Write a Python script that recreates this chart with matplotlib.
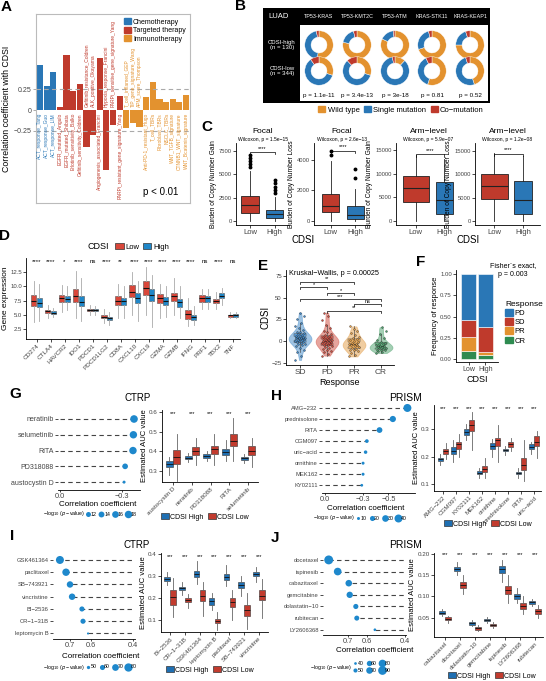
import numpy as np
import matplotlib
matplotlib.use('Agg')
import matplotlib.pyplot as plt
from matplotlib.patches import Patch
from matplotlib.lines import Line2D

plt.rcParams['font.family'] = ['Liberation Sans', 'DejaVu Sans']

W, H = 546, 681
BLUE = '#2a77b6'
RED = '#bf3a2c'
ORANGE = '#e3922f'
GREEN = '#2e8b50'

# ---- panel A
a_names = ['ACT_response_Tang', 'ACT_response_Guo', 'ACT_response_LIM',
	'EGFR_mutated_Angulo', 'EGFR_mutated_Shibata', 'Erlotinib_sensitivity_Balko', 'Gefitinib_sensitivity_Coldren',
	'Gefitinib_resistance_Coldren', 'ALK_positive_Okayama', 'Angiogenesis_associated_Francini',
	'Hypoxia_response_Francini', 'PARPi_sensitive_gene_signature_Yang', 'PARPi_resistant_gene_signature_Yang',
	'T_cell_inflamed_GEP', 'TIP_gene_signature_Wang', 'APM_score_Thompson', 'Anti-PD-1_resistant_Hugo',
	'T_cell_TBRs', 'Fibroblast_TBRs', 'NSCLC_TBRs', 'WNT_TGFB_signature', 'CTNNB1_WNT_signature',
	'WNT_Bcatenin_signature']
a_values = [0.55, 0.29, 0.46, 0.04, 0.66, 0.23, 0.32, -0.44, -0.30, 0.63, -0.72, -0.18, 0.17,
	-0.21, -0.16, -0.20, 0.16, 0.34, 0.14, 0.10, 0.14, 0.10, 0.18]
a_groups = [0] * 3 + [1] * 10 + [2] * 10
a_group_names = ['Chemotherapy', 'Targeted therapy', 'Immunotherapy']

# ---- panel B
b_pairs = ['TP53-KRAS', 'TP53-KMT2C', 'TP53-ATM', 'KRAS-STK11', 'KRAS-KEAP1']
b_parts = ['Wild type', 'Single mutation', 'Co\u2212mutation']
b_high = [[0.52, 0.45, 0.03], [0.78, 0.18, 0.04], [0.82, 0.16, 0.02], [0.70, 0.26, 0.04], [0.75, 0.20, 0.05]]
b_low = [[0.30, 0.60, 0.10], [0.30, 0.58, 0.12], [0.12, 0.85, 0.03], [0.55, 0.38, 0.07], [0.45, 0.50, 0.05]]
b_pvals = ['p = 1.1e-11', 'p = 3.4e-13', 'p = 3e-18', 'p = 0.81', 'p = 0.52']

# ---- panel C  (lo, q1, med, q3, hi)
c_titles = ['Focal', 'Focal', 'Arm\u2212level', 'Arm\u2212level']
c_tests = ['Wilcoxon, p = 1.5e\u221215', 'Wilcoxon, p = 2.6e\u221213', 'Wilcoxon, p = 5.9e\u221207', 'Wilcoxon, p = 1.2e\u221208']
c_ylabels = ['Burden of Copy Number Gain', 'Burden of Copy Number Loss', 'Burden of Copy Number Gain', 'Burden of Copy Number Loss']
c_low = [(0, 900, 1700, 2700, 5400), (0, 600, 1000, 1750, 3900), (0, 4000, 7000, 9500, 14000), (0, 4800, 7500, 10000, 14500)]
c_high = [(0, 300, 700, 1200, 2600), (0, 150, 400, 1000, 2100), (0, 1500, 4500, 8200, 13000), (0, 1600, 4500, 8500, 14000)]
c_low_out = [[5800, 6100, 6400, 6800, 7100], [4300, 4600], [], []]
c_high_out = [[3000, 3300, 3700, 4100, 4400], [2800, 3400], [], []]
c_bracket = [7400, 4600, 14100, 14400]
c_ticks = [[0, 2500, 5000, 7500], [0, 2000, 4000], [0, 5000, 10000, 15000], [0, 5000, 10000, 15000]]

# ---- panel D
d_genes = ['CD274', 'CTLA4', 'HAVCR2', 'IDO1', 'PDCD1', 'PDCD1LG2', 'CD8A', 'CXCL10', 'CXCL9',
	'GZMA', 'GZMB', 'IFNG', 'PRF1', 'TBX2', 'TNF']
d_sig = ['****', '****', '*', '****', 'ns', '****', '**', '****', '****', '****', '****', '****', 'ns', '****', 'ns']
d_low = [(3.8, 6.6, 7.5, 8.5, 11.0), (4.5, 5.3, 5.6, 5.9, 6.8), (5.5, 7.3, 7.9, 8.5, 10.2), (4.5, 7.2, 8.3, 9.5, 12.8),
	(5.0, 5.7, 5.9, 6.0, 6.8), (3.5, 4.4, 4.7, 5.0, 6.0), (4.5, 6.8, 7.5, 8.3, 10.5), (5.0, 8.1, 9.1, 10.2, 12.6),
	(5.0, 8.5, 9.8, 11.0, 13.5), (4.5, 7.0, 7.9, 8.6, 10.5), (5.0, 7.5, 8.3, 8.9, 11.5), (3.0, 4.3, 5.1, 5.8, 8.0),
	(6.0, 7.3, 7.9, 8.5, 9.5), (6.0, 7.0, 7.4, 7.8, 9.0), (4.4, 4.7, 4.9, 5.0, 5.5)]
d_high = [(4.0, 6.3, 7.0, 7.9, 10.5), (4.6, 5.1, 5.3, 5.6, 6.2), (5.8, 7.2, 7.8, 8.4, 10.0), (4.0, 6.6, 7.3, 8.3, 11.5),
	(5.0, 5.7, 5.9, 6.0, 6.6), (3.3, 4.1, 4.4, 4.7, 5.5), (4.5, 6.7, 7.4, 8.0, 10.0), (4.0, 7.0, 8.0, 8.9, 11.0),
	(2.8, 7.4, 8.5, 9.6, 12.0), (4.6, 6.8, 7.5, 8.2, 10.0), (4.5, 6.4, 7.2, 7.8, 10.0), (3.2, 4.1, 4.6, 5.0, 6.5),
	(6.0, 7.3, 7.9, 8.4, 9.5), (6.8, 8.0, 8.4, 8.8, 9.8), (4.4, 4.7, 4.9, 5.1, 5.5)]

# ---- panel E
e_groups = ['SD', 'PD', 'PR', 'CR']
e_sd = [-22, -17, -13, -10, -8, -6, -5, -4, -3, -2, -1, -1, 0, 0, 1, 1, 2, 2, 3, 3, 3, 4, 4, 5, 5, 6, 6, 7, 8, 9,
	10, 11, 13, 15, 18, 21, 25, 29, 33]
e_pd = [-17, -15, -13, -12, -10, -9, -8, -7, -6, -5, -5, -4, -3, -2, -2, -1, -1, 0, 0, 0, 1, 1, 2, 3, 3, 4, 5, 6,
	7, 8, 10, 12, 15, 19, 24, 29, 33]
e_pr = [-18, -16, -14, -12, -11, -10, -9, -8, -7, -6, -5, -5, -4, -4, -3, -2, -1, 0, 1, 2, 3, 5, 7, 9, 12, 14, 17]
e_cr = [-14, -13, -12, -11, -10, -10, -9, -8, -8, -7, -7, -6, -6, -5, -4, -3, -2, -1, 1, 4, 8, 12, 16]
e_pairs = [('SD', 'PR', 69, '**'), ('SD', 'PD', 62.4, '*'), ('PD', 'PR', 55.4, '*'), ('SD', 'CR', 48.4, '***'),
	('PR', 'CR', 42.6, 'ns'), ('PD', 'CR', 35.2, '**')]

# ---- panel F
f_levels = ['PD', 'SD', 'PR', 'CR']
f_low = [0.54, 0.20, 0.17, 0.09]
f_high = [0.62, 0.30, 0.03, 0.05]

# ---- panel G (CTRP)
g_drugs = ['neratinib', 'selumetinib', 'RITA', 'PD318088', 'austocystin D']
g_corr = [-0.358, -0.355, -0.353, -0.315, -0.31]
g_logp = [18.3, 17.8, 17.8, 13.5, 8.0]
g_box_drugs = ['austocystin D', 'neratinib', 'PD318088', 'RITA', 'selumetinib']
g_high = [(0.28, 0.32, 0.335, 0.35, 0.37), (0.345, 0.36, 0.368, 0.375, 0.39), (0.35, 0.365, 0.375, 0.385, 0.40),
	(0.35, 0.38, 0.395, 0.41, 0.46), (0.34, 0.358, 0.365, 0.372, 0.385)]
g_low = [(0.25, 0.335, 0.37, 0.405, 0.49), (0.33, 0.38, 0.40, 0.42, 0.47), (0.33, 0.385, 0.41, 0.43, 0.49),
	(0.35, 0.425, 0.455, 0.49, 0.57), (0.32, 0.38, 0.40, 0.425, 0.47)]

# ---- panel H (PRISM)
h_drugs = ['AMG\u2212232', 'prednisolone', 'RITA', 'CGM097', 'uric\u2212acid', 'ornithine', 'MEK162', 'KY02111']
h_corr = [-0.65, -0.535, -0.43, -0.33, -0.32, -0.30, -0.30, -0.29]
h_logp = [40, 27, 24, 13, 12, 10, 10, 9]
h_box_drugs = ['AMG\u2212232', 'CGM097', 'KY02111', 'MEK162', 'ornithine', 'prednisolone', 'RITA', 'uric\u2212acid']
h_high = [(0.17, 0.185, 0.19, 0.197, 0.21), (0.18, 0.21, 0.222, 0.235, 0.26), (0.26, 0.28, 0.29, 0.30, 0.32),
	(0.12, 0.135, 0.14, 0.147, 0.16), (0.20, 0.23, 0.24, 0.25, 0.265), (0.205, 0.22, 0.225, 0.23, 0.24),
	(0.12, 0.135, 0.14, 0.145, 0.16), (0.21, 0.228, 0.235, 0.245, 0.255)]
h_low = [(0.19, 0.21, 0.22, 0.228, 0.25), (0.20, 0.23, 0.245, 0.255, 0.285), (0.225, 0.295, 0.315, 0.335, 0.365),
	(0.12, 0.145, 0.155, 0.165, 0.195), (0.18, 0.24, 0.26, 0.27, 0.315), (0.22, 0.235, 0.245, 0.255, 0.27),
	(0.11, 0.15, 0.17, 0.195, 0.26), (0.195, 0.24, 0.255, 0.275, 0.295)]

# ---- panel I (CTRP)
i_drugs = ['GSK461364', 'paclitaxel', 'SB\u2212743921', 'vincristine', 'BI\u22122536', 'CR\u22121\u221231B', 'leptomycin B']
i_corr = [0.748, 0.719, 0.70, 0.69, 0.643, 0.638, 0.614]
i_logp = [78, 74, 68, 68, 60, 60, 44]
i_box_drugs = ['BI\u22122536', 'CR\u22121\u221231B', 'GSK461364', 'leptomycin B', 'paclitaxel', 'SB\u2212743921', 'vincristine']
i_high = [(0.26, 0.278, 0.285, 0.295, 0.32), (0.215, 0.237, 0.245, 0.252, 0.275), (0.265, 0.295, 0.31, 0.325, 0.37),
	(0.145, 0.17, 0.185, 0.20, 0.225), (0.255, 0.28, 0.295, 0.31, 0.35), (0.21, 0.245, 0.26, 0.275, 0.30),
	(0.275, 0.30, 0.31, 0.32, 0.34)]
i_low = [(0.115, 0.17, 0.205, 0.235, 0.29), (0.155, 0.18, 0.19, 0.20, 0.22), (0.12, 0.185, 0.21, 0.235, 0.275),
	(0.055, 0.085, 0.095, 0.105, 0.135), (0.10, 0.16, 0.18, 0.20, 0.235), (0.06, 0.12, 0.145, 0.17, 0.225),
	(0.11, 0.19, 0.21, 0.235, 0.285)]

# ---- panel J (PRISM)
j_drugs = ['docetaxel', 'ispinesib', 'cabazitaxel', 'gemcitabine', 'dolastatin\u221210', 'rubitecan', 'LY2606368']
j_corr = [0.80, 0.753, 0.695, 0.69, 0.658, 0.653, 0.558]
j_logp = [92, 80, 70, 68, 58, 57, 40]
j_box_drugs = ['cabazitaxel', 'docetaxel', 'dolastatin\u221210', 'gemcitabine', 'ispinesib', 'LY2606368', 'rubitecan']
j_high = [(0.055, 0.059, 0.062, 0.065, 0.07), (0.15, 0.16, 0.165, 0.17, 0.18), (0.03, 0.034, 0.037, 0.04, 0.045),
	(0.038, 0.042, 0.045, 0.048, 0.052), (0.135, 0.155, 0.165, 0.172, 0.185), (0.085, 0.095, 0.10, 0.105, 0.12),
	(0.078, 0.083, 0.087, 0.09, 0.095)]
j_low = [(0.038, 0.045, 0.048, 0.051, 0.055), (0.105, 0.12, 0.127, 0.135, 0.15), (0.018, 0.022, 0.025, 0.028, 0.032),
	(0.025, 0.03, 0.033, 0.036, 0.04), (0.085, 0.105, 0.115, 0.125, 0.15), (0.058, 0.07, 0.077, 0.085, 0.10),
	(0.05, 0.06, 0.066, 0.07, 0.08)]


def px_axes(fig, x0, y0, x1, y1):
	return fig.add_axes([x0 / W, 1 - y1 / H, (x1 - x0) / W, (y1 - y0) / H])


def px_text(fig, x, y, s, **kw):
	return fig.text(x / W, 1 - y / H, s, **kw)


def classic(ax, size=4.3):
	for s in ['top', 'right']:
		ax.spines[s].set_visible(False)
	for s in ['left', 'bottom']:
		ax.spines[s].set_linewidth(0.6)
	ax.tick_params(labelsize=size, length=2, width=0.5, pad=1, labelcolor='#444444')


def box_stats(rows):
	return [dict(whislo=r[0], q1=r[1], med=r[2], q3=r[3], whishi=r[4], fliers=[]) for r in rows]


def draw_a(fig):
	ax = px_axes(fig, 36, 14, 190, 203)
	colors = [[BLUE, RED, ORANGE][g] for g in a_groups]
	x = np.arange(len(a_values))
	ax.bar(x, a_values, width=0.92, color=colors)
	for i, (name, v) in enumerate(zip(a_names, a_values)):
		if v > 0:
			ax.text(i, -0.035, name, rotation=90, ha='center', va='top', fontsize=3.5, color=colors[i])
		else:
			ax.text(i, 0.035, name, rotation=90, ha='center', va='bottom', fontsize=3.5, color=colors[i])
	for y in [0.25, -0.25]:
		ax.axhline(y, ls=(0, (4, 3)), color='#aaaaaa', lw=0.8)
	ax.set_xlim(-0.6, len(a_values) - 0.4)
	ax.set_ylim(-1.12, 1.16)
	ax.set_yticks([-0.25, 0, 0.25])
	ax.set_yticklabels(['\u22120.25', '0', '0.25'])
	ax.set_xticks([])
	for s in ax.spines.values():
		s.set_color('#bbbbbb')
	ax.tick_params(axis='y', labelsize=5, length=2, width=0.5, pad=1, color='#888888', labelcolor='#444444')
	ax.set_ylabel('Correlation coefficient with CDSI', fontsize=6.3, labelpad=2)
	handles = [Patch(color=c) for c in [BLUE, RED, ORANGE]]
	ax.legend(handles, a_group_names, loc='upper right', fontsize=5, frameon=False, handlelength=1,
		handleheight=1, borderaxespad=0.2, labelspacing=0.15, handletextpad=0.3)
	ax.text(0.81, 0.06, 'p < 0.01', transform=ax.transAxes, fontsize=7, ha='center', va='center')


def draw_b(fig):
	bg = px_axes(fig, 263, 8, 490, 103)
	inner = px_axes(fig, 300, 25, 488, 101)
	for a, c in [(bg, 'black'), (inner, 'white')]:
		a.set_facecolor(c)
		a.set_xticks([])
		a.set_yticks([])
		for s in a.spines.values():
			s.set_visible(False)
	px_text(fig, 268, 16, 'LUAD', color='white', fontsize=5.5, va='center')
	px_text(fig, 282, 45, 'CDSI-high\n(n = 130)', color='white', fontsize=4.3, ha='center', va='center', linespacing=1.1)
	px_text(fig, 282, 71, 'CDSI-low\n(n = 344)', color='white', fontsize=4.3, ha='center', va='center', linespacing=1.1)
	xs = [319, 357, 395, 432, 470]
	for k, pair in enumerate(b_pairs):
		px_text(fig, xs[k], 16, pair, color='white', fontsize=3.9, ha='center', va='center')
		for vals, cy in ((b_high[k], 45), (b_low[k], 71)):
			ax = px_axes(fig, xs[k] - 15, cy - 15, xs[k] + 15, cy + 15)
			ax.pie(vals, colors=[ORANGE, BLUE, RED], startangle=90, counterclock=False, radius=0.95,
				wedgeprops=dict(width=0.42, edgecolor='white', linewidth=0.3))
			ax.set_xlim(-1, 1)
			ax.set_ylim(-1, 1)
		px_text(fig, xs[k], 95, b_pvals[k], fontsize=4.5, ha='center', va='center')
	handles = [Patch(color=c) for c in [ORANGE, BLUE, RED]]
	fig.legend(handles, b_parts, ncol=3, loc='center', bbox_to_anchor=(401 / W, 1 - 110 / H), fontsize=5.5,
		frameon=False, handlelength=0.9, handleheight=0.9, handletextpad=0.3, columnspacing=0.6)


def draw_c(fig):
	boxes = [(236, 143, 289, 225), (314, 143, 370, 225), (396, 143, 461, 225), (475, 143, 540, 225)]
	ylims = [(-430, 8370), (-260, 5100), (-840, 16460), (-860, 16740)]
	xlims = [(0.4, 2.6), (0.33, 2.6), (0.3, 2.6), (0.33, 2.6)]
	widths = [(0.75, 0.72), (0.7, 0.7), (0.9, 0.6), (0.93, 0.62)]
	for k in range(4):
		ax = px_axes(fig, *boxes[k])
		for j, (row, out, col) in enumerate([(c_low[k], c_low_out[k], RED), (c_high[k], c_high_out[k], BLUE)]):
			st = box_stats([row])
			st[0]['fliers'] = out
			ax.bxp(st, positions=[j + 1], widths=widths[k][j], patch_artist=True, showcaps=False,
				boxprops=dict(facecolor=col, edgecolor='#222222', lw=0.6),
				medianprops=dict(color='#222222', lw=0.8), whiskerprops=dict(color='#222222', lw=0.6),
				flierprops=dict(marker='o', markersize=1.8, markerfacecolor='black', markeredgecolor='black'))
		y = c_bracket[k]
		t = (ylims[k][1] - ylims[k][0]) * 0.03
		ax.plot([1, 1, 2, 2], [y - t, y, y, y - t], color='black', lw=0.5)
		ax.text(1.5, y + t * 0.6, '****', ha='center', va='bottom', fontsize=4)
		ax.set_xlim(*xlims[k])
		ax.set_ylim(*ylims[k])
		ax.set_yticks(c_ticks[k])
		ax.set_xticks([1, 2])
		ax.set_xticklabels(['Low', 'High'])
		classic(ax, 4.2)
		ax.tick_params(axis='x', labelsize=5.5)
		ax.set_ylabel(c_ylabels[k], fontsize=4.8, labelpad=1.5)
		ax.set_title(c_tests[k], fontsize=3.6, pad=1.2)
		cx = (boxes[k][0] + boxes[k][2]) / 2
		px_text(fig, cx, 131.5, c_titles[k], fontsize=6, ha='center', va='center')
	px_text(fig, 303, 240, 'CDSI', fontsize=7, ha='center', va='center')
	px_text(fig, 468, 240, 'CDSI', fontsize=7, ha='center', va='center')


def draw_d(fig):
	ax = px_axes(fig, 26, 258, 240, 339)
	pos = np.arange(1, len(d_genes) + 1)
	for rows, off, col in [(d_low, -0.2, '#d9473a'), (d_high, 0.2, '#1f87c9')]:
		ax.bxp(box_stats(rows), positions=pos + off, widths=0.38, patch_artist=True, showcaps=False,
			boxprops=dict(facecolor=col, edgecolor='#555555', lw=0.4),
			medianprops=dict(color='#111111', lw=0.8), whiskerprops=dict(color='#aaaaaa', lw=0.6))
	for p, s in zip(pos, d_sig):
		ax.text(p, 14.3, s, ha='center', va='center', fontsize=4.3)
	ax.set_xlim(0.25, 15.5)
	ax.set_ylim(0.75, 15)
	ax.set_yticks([2.5, 5.0, 7.5, 10.0, 12.5])
	ax.set_yticklabels(['2.5', '5.0', '7.5', '10.0', '12.5'])
	ax.set_xticks(pos)
	ax.set_xticklabels(d_genes, rotation=45, ha='right', rotation_mode='anchor')
	classic(ax, 4.3)
	ax.tick_params(axis='x', labelsize=4.6)
	ax.set_ylabel('Gene expression', fontsize=6, labelpad=1)
	px_text(fig, 98, 247, 'CDSI', fontsize=6.5, ha='center', va='center')
	handles = [Patch(facecolor='#d9473a', edgecolor='#333333', lw=0.5), Patch(facecolor='#1f87c9', edgecolor='#333333', lw=0.5)]
	fig.legend(handles, ['Low', 'High'], ncol=2, loc='center', bbox_to_anchor=(142 / W, 1 - 247 / H), fontsize=5.5,
		frameon=False, handlelength=1.1, handleheight=0.9, handletextpad=0.2, columnspacing=0.5)


def draw_e(fig):
	ax = px_axes(fig, 286, 270, 394, 365)
	data = [e_sd, e_pd, e_pr, e_cr]
	cols = ['#3f88c8', '#cf4a3c', '#e39c45', '#4aa06a']
	pos = np.arange(1, 5)
	vp = ax.violinplot(data, positions=pos, widths=0.85, showextrema=False, bw_method=0.45)
	for body, c in zip(vp['bodies'], cols):
		body.set_facecolor(c)
		body.set_edgecolor(c)
		body.set_alpha(0.5)
		body.set_linewidth(0.5)
	bp = ax.boxplot(data, positions=pos, widths=0.45, notch=True, patch_artist=True, showfliers=False,
		showcaps=False, medianprops=dict(color='#333333', lw=0.6), whiskerprops=dict(color='#555555', lw=0.5))
	for patch, c in zip(bp['boxes'], cols):
		patch.set_facecolor(c)
		patch.set_alpha(0.7)
		patch.set_edgecolor('#444444')
		patch.set_linewidth(0.4)
	for p, vals, c in zip(pos, data, cols):
		n = len(vals)
		jit = ((np.arange(n) * 0.618) % 1 - 0.5) * 0.38
		ax.scatter(p + jit, vals, s=1.8, color=c, edgecolor='#222222', linewidth=0.25, zorder=3)
	t = 2.2
	for a, b, y, lab in e_pairs:
		i, j = e_groups.index(a) + 1, e_groups.index(b) + 1
		ax.plot([i, i, j, j], [y - t, y, y, y - t], color='black', lw=0.5)
		ax.text((i + j) / 2, y + 0.5, lab, ha='center', va='bottom', fontsize=4)
	ax.text(0.6, 79, 'Kruskal\u2212Wallis, p = 0.00025', fontsize=5.2, va='center')
	ax.set_xlim(0.48, 4.48)
	ax.set_ylim(-27.9, 82.5)
	ax.set_yticks([-25, 0, 25, 50, 75])
	ax.set_xticks(pos)
	ax.set_xticklabels(e_groups)
	classic(ax, 4.3)
	ax.tick_params(axis='x', labelsize=6)
	ax.set_ylabel('CDSI', fontsize=7, labelpad=1)
	ax.set_xlabel('Response', fontsize=6.5, labelpad=1)


def draw_f(fig):
	ax = px_axes(fig, 456, 270, 498, 362)
	cols = [BLUE, RED, ORANGE, GREEN]
	bottom = np.zeros(2)
	for k in range(3, -1, -1):
		vals = np.array([f_low[k], f_high[k]])
		ax.bar([1, 2], vals, bottom=bottom, width=0.88, color=cols[k], edgecolor='white', lw=0.4)
		bottom += vals
	ax.set_xlim(0.26, 2.74)
	ax.set_ylim(-0.035, 1.05)
	ax.set_yticks([0, 0.25, 0.5, 0.75, 1.0])
	ax.set_yticklabels(['0.00', '0.25', '0.50', '0.75', '1.00'])
	ax.set_xticks([1, 2])
	ax.set_xticklabels(['Low', 'High'])
	classic(ax, 4.3)
	ax.tick_params(axis='x', labelsize=5)
	ax.set_ylabel('Frequency of response', fontsize=5.5, labelpad=1)
	ax.set_xlabel('CDSI', fontsize=6.5, labelpad=1)
	px_text(fig, 513, 270, 'Fisher`s exact,\np = 0.003', fontsize=5, ha='center', va='center', linespacing=1.3)
	handles = [Patch(color=c) for c in cols]
	fig.legend(handles, f_levels, title='Response', loc='upper left', bbox_to_anchor=(498 / W, 1 - 294 / H),
		fontsize=5.5, title_fontsize=6, frameon=False, handlelength=1, handleheight=1, labelspacing=0.15,
		handletextpad=0.3, alignment='left')


def dot_diam(v, ref):
	v1, d1, v2, d2 = ref
	d = d1 + (d2 - d1) * (np.sqrt(v) - np.sqrt(v1)) / (np.sqrt(v2) - np.sqrt(v1))
	return np.maximum(d, 1.5)


def draw_lollipop(fig, box, drugs, corr, logp, xlim, ylim, ticks, ticklabels, ref, leg_vals, leg_xy, ncol, label_size, xlab_xy):
	ax = px_axes(fig, *box)
	n = len(drugs)
	y = np.arange(n, 0, -1)
	ax.hlines(y, 0, corr, colors='#444444', linestyles=(0, (4, 3)), lw=0.8)
	diam = dot_diam(np.array(logp), ref)
	ax.scatter(corr, y, s=(diam * 0.72) ** 2, color='#1e88cc', zorder=3, linewidths=0)
	ax.set_xlim(*xlim)
	ax.set_ylim(*ylim)
	ax.set_yticks(y)
	ax.set_yticklabels(drugs)
	ax.set_xticks(ticks)
	ax.set_xticklabels(ticklabels)
	for s in ['top', 'right', 'left']:
		ax.spines[s].set_visible(False)
	ax.spines['bottom'].set_linewidth(0.6)
	ax.tick_params(axis='y', labelsize=label_size, length=2, width=0.5, pad=1, labelcolor='#444444')
	ax.tick_params(axis='x', labelsize=5.3, length=1.5, width=0.5, pad=0.5, labelcolor='#444444')
	px_text(fig, xlab_xy[0], xlab_xy[1], 'Correlation coefficient', fontsize=5.8, ha='center', va='center')
	handles = [Line2D([], [], ls='', marker='o', markersize=float(dot_diam(v, ref)) * 0.72, color='#1e88cc', markeredgewidth=0) for v in leg_vals]
	px_text(fig, leg_xy[0], leg_xy[1], '\u2212log$_{10}$ ($p$ \u2212value)', fontsize=3.8, ha='right', va='center')
	fig.legend(handles, [str(v) for v in leg_vals], ncol=ncol, loc='center left', bbox_to_anchor=(leg_xy[0] / W, 1 - leg_xy[1] / H),
		fontsize=3.8, frameon=False, handlelength=0.8, handletextpad=0.1, columnspacing=0.5, labelspacing=0.3, borderaxespad=0, borderpad=0.2)


def draw_drug_box(fig, box, drugs, high, low, xlim, ylim, yticks, yticklabels, star_y, leg_xy):
	ax = px_axes(fig, *box)
	pos = np.arange(1, len(drugs) + 1)
	for rows, off, col in [(high, -0.2, '#1f6fb2'), (low, 0.2, '#c23b2e')]:
		ax.bxp(box_stats(rows), positions=pos + off, widths=0.38, patch_artist=True, showcaps=False,
			boxprops=dict(facecolor=col, edgecolor='#333333', lw=0.4),
			medianprops=dict(color='#111111', lw=0.6), whiskerprops=dict(color='#666666', lw=0.6))
	for p in pos:
		ax.text(p, star_y, '***', ha='center', va='center', fontsize=4)
	ax.set_xlim(*xlim)
	ax.set_ylim(*ylim)
	ax.set_yticks(yticks)
	ax.set_yticklabels(yticklabels)
	ax.set_xticks(pos)
	ax.set_xticklabels(drugs, rotation=45, ha='right', rotation_mode='anchor')
	classic(ax, 4.5)
	ax.set_ylabel('Estimated AUC value', fontsize=5.5, labelpad=1)
	handles = [Patch(facecolor='#1f6fb2', edgecolor='#333333', lw=0.5), Patch(facecolor='#c23b2e', edgecolor='#333333', lw=0.5)]
	fig.legend(handles, ['CDSI High', 'CDSI Low'], ncol=2, loc='center', bbox_to_anchor=(leg_xy[0] / W, 1 - leg_xy[1] / H),
		fontsize=5, frameon=False, handlelength=1.1, handleheight=0.9, handletextpad=0.2, columnspacing=0.6)


def main():
	fig = plt.figure(figsize=(W / 100, H / 100), dpi=100)
	draw_a(fig)
	draw_b(fig)
	draw_c(fig)
	draw_d(fig)
	draw_e(fig)
	draw_f(fig)

	px_text(fig, 138, 398, 'CTRP', fontsize=7, ha='center', va='center')
	draw_lollipop(fig, (58, 410, 140, 490), g_drugs, g_corr, g_logp, (0.01, -0.387), (0.5, 5.57),
		[0.0, -0.3], ['0.0', '\u22120.3'], (12, 5, 18, 7.5), [12, 14, 16, 18], (85, 514), 4, 5, (98, 505))
	draw_drug_box(fig, (162, 410, 258, 482), g_box_drugs, g_high, g_low, (0.41, 5.53), (0.245, 0.61),
		[0.3, 0.4, 0.5, 0.6], ['0.3', '0.4', '0.5', '0.6'], 0.59, (205, 517))

	px_text(fig, 406, 398, 'PRISM', fontsize=7.5, ha='center', va='center')
	draw_lollipop(fig, (322, 402, 415, 493), h_drugs, h_corr, h_logp, (0.024, -0.71), (0.3, 8.54),
		[0.0, -0.3, -0.5], ['0.0', '\u22120.3', '\u22120.5'], (10, 3, 40, 8), [10, 20, 30, 40], (355, 518), 4, 4.2, (366, 508))
	draw_drug_box(fig, (434, 405, 541, 491), h_box_drugs, h_high, h_low, (0.31, 8.54), (0.074, 0.39),
		[0.1, 0.2, 0.3], ['0.1', '0.2', '0.3'], 0.378, (488, 524))

	px_text(fig, 137, 545, 'CTRP', fontsize=7, ha='center', va='center')
	draw_lollipop(fig, (53, 552, 135, 639), i_drugs, i_corr, i_logp, (0.781, 0.39), (0.55, 7.65),
		[0.7, 0.6, 0.4], ['0.7', '0.6', '0.4'], (50, 3.3, 80, 8.3), [50, 60, 70, 80], (85, 667), 4, 4.2, (101, 656))
	draw_drug_box(fig, (161, 553, 268, 632), i_box_drugs, i_high, i_low, (0.4, 7.6), (0.045, 0.405),
		[0.1, 0.2, 0.3, 0.4], ['0.1', '0.2', '0.3', '0.4'], 0.39, (210, 670))

	px_text(fig, 406, 545, 'PRISM', fontsize=7.5, ha='center', va='center')
	draw_lollipop(fig, (323, 552, 406, 635), j_drugs, j_corr, j_logp, (0.83, 0.395), (0.55, 7.68),
		[0.7, 0.6, 0.4], ['0.7', '0.6', '0.4'], (40, 2.7, 90, 8.7), [40, 50, 60, 70, 80, 90], (352, 667), 3, 4.2, (375, 651))
	draw_drug_box(fig, (434, 553, 543, 637), j_box_drugs, j_high, j_low, (0.27, 7.53), (0.005, 0.202),
		[0.05, 0.10, 0.15, 0.20], ['0.05', '0.10', '0.15', '0.20'], 0.198, (492, 676))

	for lab, x, y in [('A', 6, 7), ('B', 240, 6), ('C', 207, 127), ('D', 5, 236), ('E', 263, 266), ('F', 421, 262),
			('G', 15, 394), ('H', 277, 396), ('I', 12, 536), ('J', 275, 538)]:
		px_text(fig, x, y, lab, fontsize=11, fontweight='bold', ha='center', va='center')

	fig.savefig('out.png', dpi=100)


main()
